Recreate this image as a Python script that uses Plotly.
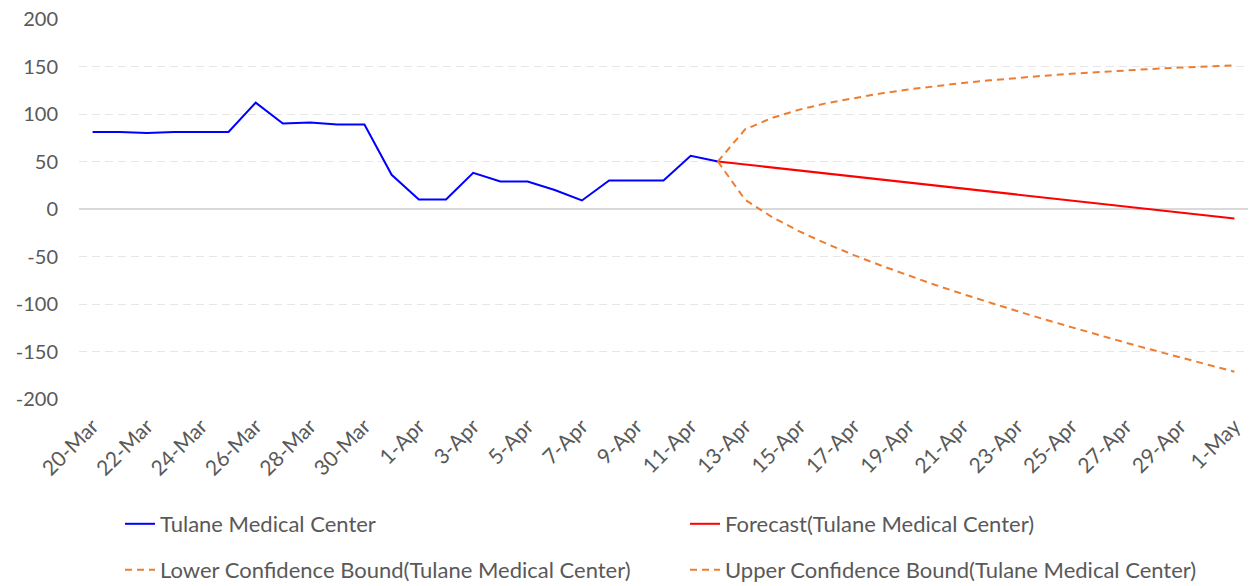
import plotly.graph_objects as go
import pandas as pd

# ---- data ----
actual_dates = pd.date_range("2020-03-20", "2020-04-12", freq="D")
actual_values = [81, 81, 80, 81, 81, 81, 112, 90, 91, 89, 89, 36,
                 10, 10, 38, 29, 29, 20, 9, 30, 30, 30, 56, 50]

forecast_dates = pd.date_range("2020-04-12", "2020-05-01", freq="D")
forecast_values = [50, 46.8, 43.7, 40.5, 37.4, 34.2, 31.1, 27.9, 24.7, 21.6,
                   18.4, 15.3, 12.1, 8.9, 5.8, 2.6, -0.5, -3.7, -6.8, -10]
lower_values = [50, 9.8, -8.6, -23.6, -36.6, -48.5, -59.5, -70.0, -80.0, -89.4,
                -98.6, -107.4, -116.1, -124.5, -132.6, -140.7, -148.5, -156.3, -163.8, -171.3]
upper_values = [50, 83.8, 96.0, 104.6, 111.4, 116.9, 121.7, 125.8, 129.4, 132.6,
                135.4, 138.0, 140.3, 142.3, 144.2, 145.9, 147.5, 148.9, 150.2, 151.3]

tick_dates = pd.date_range("2020-03-20", "2020-05-01", freq="2D")
tick_labels = ["20-Mar", "22-Mar", "24-Mar", "26-Mar", "28-Mar", "30-Mar", "1-Apr",
               "3-Apr", "5-Apr", "7-Apr", "9-Apr", "11-Apr", "13-Apr", "15-Apr",
               "17-Apr", "19-Apr", "21-Apr", "23-Apr", "25-Apr", "27-Apr", "29-Apr", "1-May"]
y_ticks = [-200, -150, -100, -50, 0, 50, 100, 150, 200]
y_tick_labels = ["-200", "-150", "-100", "-50", "0", "50", "100", "150", "200"]

FONT = "Lato"
GREY = "#595959"

fig = go.Figure()
fig.add_trace(go.Scatter(x=actual_dates, y=actual_values, mode="lines",
                         name="Tulane Medical Center",
                         line=dict(color="#0000FF", width=2), legend="legend"))
fig.add_trace(go.Scatter(x=forecast_dates, y=forecast_values, mode="lines",
                         name="Forecast(Tulane Medical Center)",
                         line=dict(color="#FF0000", width=2), legend="legend"))
fig.add_trace(go.Scatter(x=forecast_dates, y=lower_values, mode="lines",
                         name="Lower Confidence Bound(Tulane Medical Center)",
                         line=dict(color="#ED7D31", width=2, dash="7px,5px"), legend="legend2"))
fig.add_trace(go.Scatter(x=forecast_dates, y=upper_values, mode="lines",
                         name="Upper Confidence Bound(Tulane Medical Center)",
                         line=dict(color="#ED7D31", width=2, dash="7px,5px"), legend="legend2"))

x0 = pd.Timestamp("2020-03-20") - pd.Timedelta(hours=12)
x1 = pd.Timestamp("2020-05-01") + pd.Timedelta(hours=12)

PLOT_TOP, PLOT_BOTTOM = 19, 399
PLOT_H = PLOT_BOTTOM - PLOT_TOP
PLOT_L = 79
PLOT_W = 1249 - 1 - PLOT_L


def paper_y(px):
    return (PLOT_BOTTOM - px) / PLOT_H


def paper_x(px):
    return (px - PLOT_L) / PLOT_W


legend_common = dict(orientation="h", xanchor="left", yanchor="middle",
                     entrywidth=520, entrywidthmode="pixels",
                     font=dict(family=FONT, size=22, color=GREY),
                     bgcolor="rgba(0,0,0,0)", x=paper_x(120))

fig.update_layout(
    width=1249, height=586,
    margin=dict(l=PLOT_L, r=1, t=PLOT_TOP, b=586 - PLOT_BOTTOM, autoexpand=False),
    plot_bgcolor="white", paper_bgcolor="white",
    font=dict(family=FONT, size=18, color=GREY),
    xaxis=dict(type="date", range=[x0, x1], tickvals=tick_dates, ticktext=tick_labels,
               tickangle=-45, showgrid=False, zeroline=False, showline=False,
               ticks="", ticklabelstandoff=10,
               tickfont=dict(family=FONT, size=21, color=GREY)),
    yaxis=dict(range=[-200, 200], tickvals=y_ticks, ticktext=y_tick_labels, showgrid=True,
               gridcolor="#E6E6E6", griddash="8px,5px", gridwidth=1,
               zeroline=True, zerolinecolor="#D9D9D9", zerolinewidth=2,
               showline=False, ticks="", ticklabelstandoff=20,
               tickfont=dict(family=FONT, size=20, color=GREY)),
    legend=dict(y=paper_y(524), **legend_common),
    legend2=dict(y=paper_y(570), **legend_common),
    showlegend=True,
)

fig.write_html("out.html", config={"displayModeBar": False},
               post_script="document.body.style.margin='0';document.body.style.overflow='hidden';")
